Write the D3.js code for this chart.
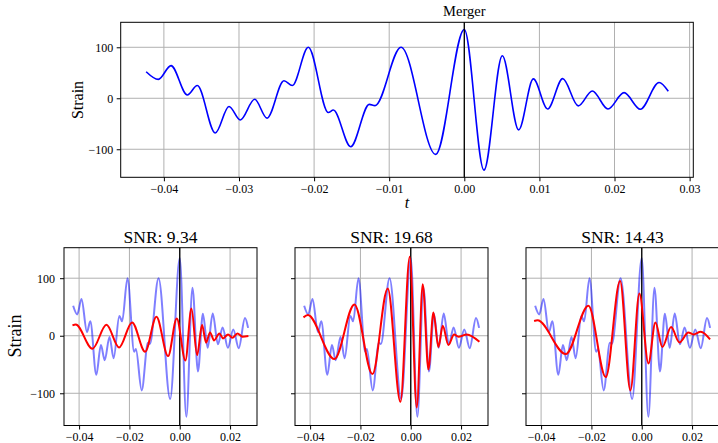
<!DOCTYPE html>
<html>
<head>
<meta charset="utf-8">
<script src="https://cdn.jsdelivr.net/npm/d3@7"></script>
<style>
  body { margin: 0; background: #fff; }
  svg text { font-family: 'Liberation Serif', 'Times New Roman', serif; fill: #000; }
</style>
</head>
<body>
<div id="chart"></div>
<script>
// strain signal at its turning points
var strainT = [-0.04236, -0.04074, -0.03905, -0.03688, -0.03555, -0.03316, -0.03133, -0.02983,
  -0.02791, -0.02627, -0.02401, -0.0229, -0.02077, -0.01811, -0.01744, -0.01513, -0.01265,
  -0.01189, -0.00843, -0.00381, 0.0, 0.00262, 0.00506, 0.00724, 0.00919, 0.0111, 0.0131,
  0.01518, 0.01704, 0.01913, 0.02127, 0.02344, 0.02593, 0.02716];
var strainV = [52, 37, 64, 6.5, 25, -68, -16, -42.5, -2, -39, 34.5, 25, 100, -28, -23, -95, -12,
  -14.5, 100, -110, 135, -141, 83.5, -62, 38, -21, 38.5, -15, 14.3, -21, 11, -21.6, 31, 13.7];

// template fits for the three panels
var snrTitles = ["SNR: 9.34", "SNR: 19.68", "SNR: 14.43"];

var fit1T = [-0.04264, -0.04132, -0.0347, -0.02913, -0.0241, -0.01894, -0.01377, -0.00927,
  -0.00464, -0.00119, 0.00225, 0.00464, 0.00689, 0.00887, 0.01046, 0.01205, 0.01364, 0.01576,
  0.01722, 0.0192, 0.02092, 0.02291, 0.0249, 0.02728];
var fit1V = [18, 19.7, -22.6, 19.1, -20.3, 23.2, -27.8, 33, -35.4, 30.1, -42.9, 47.5, -33.6,
  18.6, -12.2, 5.8, -8.1, 4, -4.6, 2.3, -3.5, 4, -1.7, -0.6];

var fit2T = [-0.04264, -0.04092, -0.03033, -0.02238, -0.01523, -0.00914, -0.00411, -0.0004,
  0.00238, 0.00477, 0.00702, 0.009, 0.01099, 0.01271, 0.01496, 0.01722, 0.01894, 0.02225, 0.02728];
var fit2V = [31.9, 36, -40.6, 54.5, -66.7, 82.3, -114.8, 137.4, -124.6, 89.3, -58.6, 40.6,
  -19.7, 17.4, -16.2, 2.3, -1.7, 2.3, -10.4];

var fit3T = [-0.04278, -0.04145, -0.0302, -0.02119, -0.0143, -0.00861, -0.0045, -0.00093,
  0.00265, 0.00543, 0.00821, 0.01165, 0.01497, 0.01854, 0.02053, 0.02344, 0.02715];
var fit3V = [25.5, 26.7, -31.9, 52.2, -71.9, 95, -95, 73.6, -48.1, 23.2, -19.7, 15.1, -11.6,
  5.8, 2.3, 7, -6.4];

var topXTicks = [-0.04, -0.03, -0.02, -0.01, 0.0, 0.01, 0.02, 0.03];
var botXTicks = [-0.04, -0.02, 0.0, 0.02];
var yTicks = [-100, 0, 100];

var zip = function(ts, vs) { return ts.map(function(t, i) { return [t, vs[i]]; }); };
var strainData = zip(strainT, strainV);
var fits = [zip(fit1T, fit1V), zip(fit2T, fit2V), zip(fit3T, fit3V)];

var svg = d3.select("#chart").append("svg")
  .attr("width", 718)
  .attr("height", 443);

var fmtX = d3.format(".2f");
var fmtY = d3.format("d");

function drawPanel(box, xDomain, yDomain, xTicks, showYLabels, fontSize, xPad, yPad) {
  var x = d3.scaleLinear().domain(xDomain).range([box.left, box.right]);
  var y = d3.scaleLinear().domain(yDomain).range([box.bottom, box.top]);
  var g = svg.append("g");

  // grid
  g.selectAll(".vgrid").data(xTicks).enter().append("line")
    .attr("x1", d => x(d)).attr("x2", d => x(d))
    .attr("y1", box.top).attr("y2", box.bottom)
    .attr("stroke", "#b0b0b0").attr("stroke-width", 1);
  g.selectAll(".hgrid").data(yTicks).enter().append("line")
    .attr("x1", box.left).attr("x2", box.right)
    .attr("y1", d => y(d)).attr("y2", d => y(d))
    .attr("stroke", "#b0b0b0").attr("stroke-width", 1);

  // axes
  var xa = g.append("g")
    .attr("transform", `translate(0, ${box.bottom})`)
    .call(d3.axisBottom(x).tickValues(xTicks).tickFormat(fmtX).tickSize(4).tickPadding(xPad));
  var ya = g.append("g")
    .attr("transform", `translate(${box.left}, 0)`)
    .call(d3.axisLeft(y).tickValues(yTicks).tickFormat(showYLabels ? fmtY : "").tickSize(4).tickPadding(yPad));
  [xa, ya].forEach(function(a) {
    a.attr("font-family", null).attr("font-size", null);
    a.select(".domain").remove();
    a.selectAll("text")
      .style("font-family", "'Liberation Serif', serif")
      .style("font-size", fontSize + "px")
      .attr("fill", "#000");
    a.selectAll("line").attr("stroke", "#000").attr("stroke-width", 1);
  });

  return { g: g, x: x, y: y };
}

function spines(g, box) {
  g.append("rect")
    .attr("x", box.left).attr("y", box.top)
    .attr("width", box.right - box.left).attr("height", box.bottom - box.top)
    .attr("fill", "none").attr("stroke", "#000").attr("stroke-width", 1);
}

// top panel
var topBox = { left: 120.7, right: 693.3, top: 22.3, bottom: 177.3 };
var topP = drawPanel(topBox, [-0.04575, 0.03049], [-155, 149], topXTicks, true, 12, 3, 3.5);

var topLine = d3.line()
  .x(d => topP.x(d[0]))
  .y(d => topP.y(d[1]))
  .curve(d3.curveMonotoneX);

topP.g.append("path")
  .datum(strainData)
  .attr("d", topLine)
  .attr("fill", "none")
  .attr("stroke", "#0000ff")
  .attr("stroke-width", 1.6);

topP.g.append("line")
  .attr("x1", topP.x(0)).attr("x2", topP.x(0))
  .attr("y1", topBox.top).attr("y2", topBox.bottom)
  .attr("stroke", "#000").attr("stroke-width", 1.3);

spines(topP.g, topBox);

svg.append("text")
  .attr("x", topP.x(0)).attr("y", 16)
  .attr("text-anchor", "middle")
  .style("font-size", "14.5px")
  .text("Merger");

svg.append("text")
  .attr("transform", "translate(83, 100) rotate(-90)")
  .attr("text-anchor", "middle")
  .style("font-size", "16px")
  .text("Strain");

svg.append("text")
  .attr("x", (topBox.left + topBox.right) / 2).attr("y", 208)
  .attr("text-anchor", "middle")
  .style("font-size", "16px")
  .style("font-style", "italic")
  .text("t");

// bottom panels
var lefts = [64, 295, 526];
lefts.forEach(function(left, i) {
  var box = { left: left, right: left + 193, top: 247.7, bottom: 425.5 };
  var p = drawPanel(box, [-0.0460, 0.0307], [-156, 153], botXTicks, i === 0, 12, 2.5, 5);

  var line = d3.line()
    .x(d => p.x(d[0]))
    .y(d => p.y(d[1]))
    .curve(d3.curveMonotoneX);

  p.g.append("path")
    .datum(strainData)
    .attr("d", line)
    .attr("fill", "none")
    .attr("stroke", "#0000ff")
    .attr("stroke-opacity", 0.5)
    .attr("stroke-width", 2);

  p.g.append("line")
    .attr("x1", p.x(0)).attr("x2", p.x(0))
    .attr("y1", box.top).attr("y2", box.bottom)
    .attr("stroke", "#000").attr("stroke-width", 1.3);

  p.g.append("path")
    .datum(fits[i])
    .attr("d", line)
    .attr("fill", "none")
    .attr("stroke", "#ff0000")
    .attr("stroke-width", 2);

  spines(p.g, box);

  svg.append("text")
    .attr("x", (box.left + box.right) / 2).attr("y", 243)
    .attr("text-anchor", "middle")
    .style("font-size", "17.5px")
    .text(snrTitles[i]);
});

svg.append("text")
  .attr("transform", "translate(21, 336) rotate(-90)")
  .attr("text-anchor", "middle")
  .style("font-size", "18px")
  .text("Strain");
</script>
</body>
</html>
